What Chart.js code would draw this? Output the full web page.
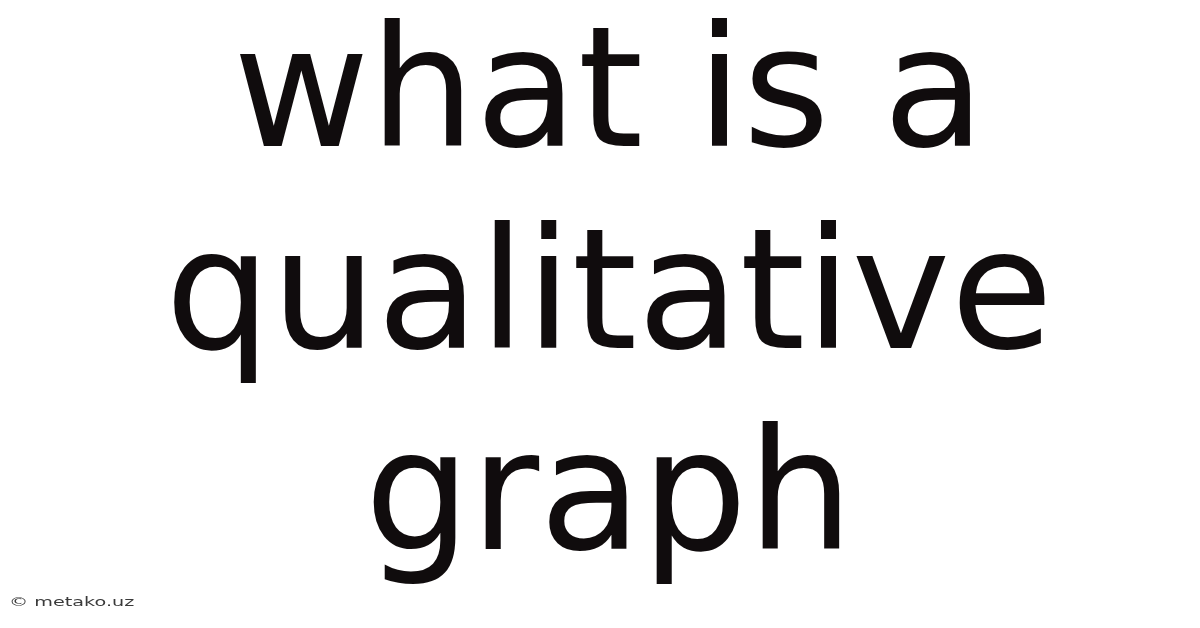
<!DOCTYPE html>
<html>
<head>
<meta charset="utf-8">
<script src="https://cdn.jsdelivr.net/npm/chart.js@4"></script>
<style>
  html, body { margin: 0; padding: 0; background: #ffffff; }
  #wrap { width: 1200px; height: 628px; }
</style>
</head>
<body>
<div id="wrap"><canvas id="card"></canvas></div>
<script>
const titleLines = ["what is a", "qualitative", "graph"];
const footerText = "\u00a9 metako.uz";
const labels = [];
const values = [];

// small credit line, stretched sideways like in the source image
const footerPlugin = {
  id: "footer",
  afterDraw(chart) {
    const ctx = chart.ctx;
    ctx.save();
    ctx.fillStyle = "#3a3a3a";
    ctx.font = "12px 'DejaVu Sans'";
    ctx.textBaseline = "alphabetic";
    ctx.translate(9, 606);
    ctx.scale(1.6, 1);
    ctx.fillText(footerText, 0, 0);
    ctx.restore();
  },
};

function createCard() {
  const ctx = document.getElementById("card").getContext("2d");

  new Chart(ctx, {
    type: "bar",
    data: {
      labels: labels,
      datasets: [{ data: values }],
    },
    options: {
      responsive: true,
      maintainAspectRatio: false,
      animation: false,
      events: [],
      layout: { padding: { left: 18, right: 0, top: 0, bottom: 0 } },
      scales: {
        x: { display: false },
        y: { display: false },
      },
      plugins: {
        legend: { display: false },
        tooltip: { enabled: false },
        title: {
          display: true,
          text: titleLines,
          color: "#100c0d",
          font: { family: "DejaVu Sans", size: 167, weight: "normal", lineHeight: "201.5px" },
          padding: { top: 2, bottom: 0 },
        },
      },
    },
    plugins: [footerPlugin],
  });
}

window.onload = createCard;
</script>
</body>
</html>
